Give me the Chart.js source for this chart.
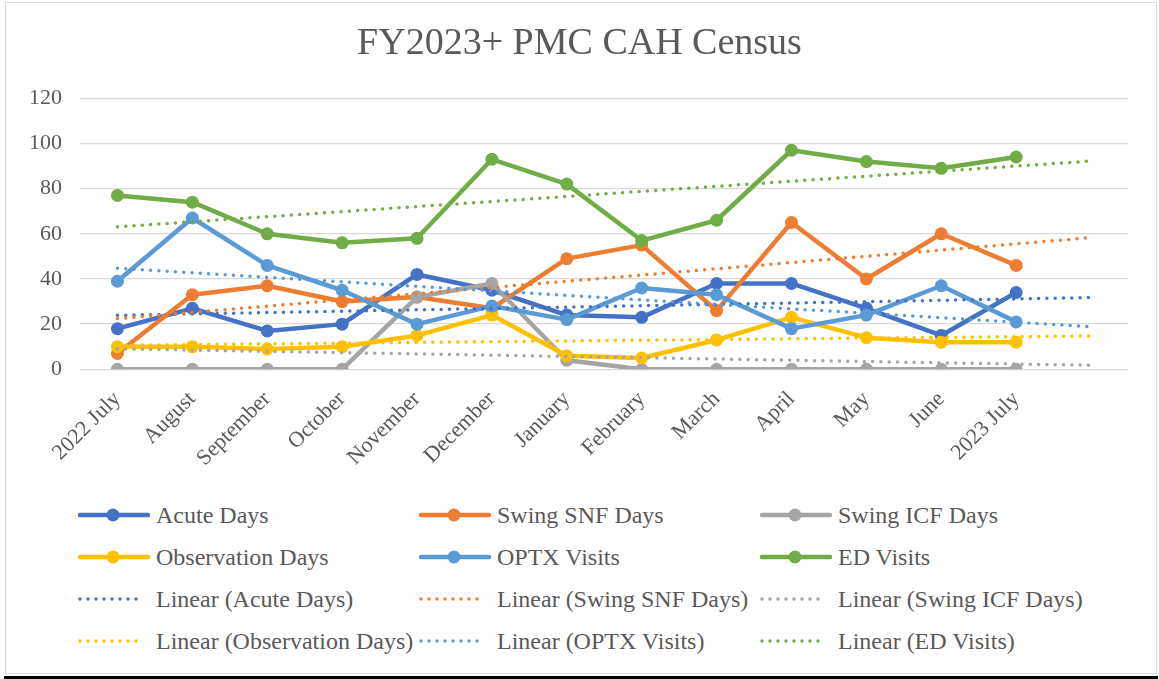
<!DOCTYPE html>
<html lang="en">
  <head>
    <meta charset="UTF-8" />
    <title>FY2023+ PMC CAH Census</title>
    <script src="https://cdn.jsdelivr.net/npm/chart.js"></script>
    <style>
      body {
        margin: 0;
        background: #ffffff;
      }
      .frame {
        position: relative;
        width: 1159px;
        height: 679px;
        font-family: "Liberation Serif", "Times New Roman", serif;
      }
      .frame .border {
        position: absolute;
        left: 5px;
        top: 2px;
        width: 1150px;
        height: 670px;
        border: 1.5px solid #d9d9d9;
      }
      .frame .bottom-bar {
        position: absolute;
        left: 4px;
        top: 676px;
        width: 1154px;
        height: 3px;
        background: #000000;
      }
      #chart {
        position: absolute;
        left: 0;
        top: 0;
      }
      .legend-item {
        position: absolute;
        height: 30px;
        display: flex;
        align-items: center;
        color: #595959;
        font-size: 24px;
        white-space: nowrap;
      }
      .legend-item svg {
        margin-right: 6px;
      }
    </style>
  </head>
  <body>
    <div class="frame">
      <div class="border"></div>
      <canvas id="chart" width="1159" height="480"></canvas>
      <div id="legend"></div>
      <div class="bottom-bar"></div>
    </div>

    <script>
      // months on the x axis
      const months = [
        "2022 July",
        "August",
        "September",
        "October",
        "November",
        "December",
        "January",
        "February",
        "March",
        "April",
        "May",
        "June",
        "2023 July",
      ];

      // monthly values
      const acuteDays = [18, 27, 17, 20, 42, 35, 24, 23, 38, 38, 27, 15, 34];
      const swingSnfDays = [7, 33, 37, 30, 32, 27, 49, 55, 26, 65, 40, 60, 46];
      const swingIcfDays = [0, 0, 0, 0, 32, 38, 4, 0, 0, 0, 0, 0, 0];
      const observationDays = [10, 10, 9, 10, 15, 24, 6, 5, 13, 23, 14, 12, 12];
      const optxVisits = [39, 67, 46, 35, 20, 28, 22, 36, 33, 18, 24, 37, 21];
      const edVisits = [77, 74, 60, 56, 58, 93, 82, 57, 66, 97, 92, 89, 94];

      const yTicks = [0, 20, 40, 60, 80, 100, 120];

      const seriesNames = [
        "Acute Days",
        "Swing SNF Days",
        "Swing ICF Days",
        "Observation Days",
        "OPTX Visits",
        "ED Visits",
      ];
      const seriesData = [
        acuteDays,
        swingSnfDays,
        swingIcfDays,
        observationDays,
        optxVisits,
        edVisits,
      ];
      const colors = [
        "#4472C4",
        "#ED7D31",
        "#A5A5A5",
        "#FFC000",
        "#5B9BD5",
        "#70AD47",
      ];

      // trendlines run one period past the last month
      const labels = months.concat([""]);

      // least squares line, like Excel's linear trendline
      function linearTrend(values, length) {
        const n = values.length;
        let sx = 0, sy = 0, sxy = 0, sxx = 0;
        values.forEach((v, i) => {
          sx += i;
          sy += v;
          sxy += i * v;
          sxx += i * i;
        });
        const slope = (n * sxy - sx * sy) / (n * sxx - sx * sx);
        const icpt = (sy - slope * sx) / n;
        const out = [];
        for (let i = 0; i < length; i++) out.push(icpt + slope * i);
        return out;
      }

      const datasets = [];
      seriesNames.forEach((name, i) => {
        datasets.push({
          label: name,
          data: seriesData[i],
          borderColor: colors[i],
          backgroundColor: colors[i],
          borderWidth: 4.5,
          borderJoinStyle: "round",
          borderCapStyle: "round",
          pointRadius: 6.5,
          pointBorderWidth: 0,
          pointBackgroundColor: colors[i],
          tension: 0,
          order: 20 - i,
        });
      });
      seriesNames.forEach((name, i) => {
        datasets.push({
          label: "Linear (" + name + ")",
          data: linearTrend(seriesData[i], labels.length),
          borderColor: colors[i],
          borderWidth: 3.5,
          borderDash: [0, 8.3],
          borderCapStyle: "round",
          pointRadius: 0,
          tension: 0,
          order: 10 - i,
        });
      });

      const textColor = "#595959";
      const serif = "'Liberation Serif', 'Times New Roman', serif";

      new Chart(document.getElementById("chart"), {
        type: "line",
        data: { labels: labels, datasets: datasets },
        options: {
          responsive: false,
          animation: false,
          // equal side padding keeps the title centred on the canvas
          layout: { padding: { left: 15.25, right: 15.25, top: 0, bottom: 0 } },
          plugins: {
            legend: { display: false },
            tooltip: { enabled: false },
            title: {
              display: true,
              text: "FY2023+ PMC CAH Census",
              color: textColor,
              font: { family: serif, size: 38, weight: "normal" },
              padding: { top: 21, bottom: 31.7 },
            },
          },
          scales: {
            x: {
              offset: true,
              grid: { display: false, drawTicks: false },
              border: { display: false },
              ticks: {
                color: textColor,
                font: { family: serif, size: 22 },
                minRotation: 45,
                maxRotation: 45,
                autoSkip: false,
                padding: 17,
              },
              afterFit: (scale) => {
                scale.height = 110.7;
              },
            },
            y: {
              min: yTicks[0],
              max: yTicks[yTicks.length - 1],
              grid: { color: "#d9d9d9", lineWidth: 1.3, drawTicks: false },
              border: { display: false },
              ticks: {
                stepSize: yTicks[1] - yTicks[0],
                color: textColor,
                font: { family: serif, size: 22 },
                padding: 18,
              },
              afterFit: (scale) => {
                scale.width = 64.75;
              },
            },
            // empty right-hand strip so the plot ends where the original does
            yRight: {
              position: "right",
              grid: { display: false, drawTicks: false },
              border: { display: false },
              ticks: { display: false },
              afterFit: (scale) => {
                scale.width = 15.25;
              },
            },
          },
        },
      });

      // legend in three columns, as in the original
      const legend = document.getElementById("legend");
      const colX = [78, 419, 760];
      const rowY = [515, 557, 599, 641];
      datasets.forEach((ds, k) => {
        const trend = k >= seriesNames.length;
        const i = k % seriesNames.length;
        const item = document.createElement("div");
        item.className = "legend-item";
        item.style.left = colX[i % 3] + "px";
        item.style.top = rowY[Math.floor(i / 3) + (trend ? 2 : 0)] - 15 + "px";
        let svg;
        if (trend) {
          svg =
            '<svg width="72" height="16"><line x1="2" y1="8" x2="66" y2="8" stroke="' +
            colors[i] +
            '" stroke-width="3.5" stroke-linecap="round" stroke-dasharray="0 8"/></svg>';
        } else {
          svg =
            '<svg width="72" height="16"><line x1="2" y1="8" x2="70" y2="8" stroke="' +
            colors[i] +
            '" stroke-width="4.5" stroke-linecap="round"/><circle cx="35" cy="8" r="6.5" fill="' +
            colors[i] +
            '"/></svg>';
        }
        item.innerHTML = svg + "<span>" + ds.label + "</span>";
        legend.appendChild(item);
      });
    </script>
  </body>
</html>
